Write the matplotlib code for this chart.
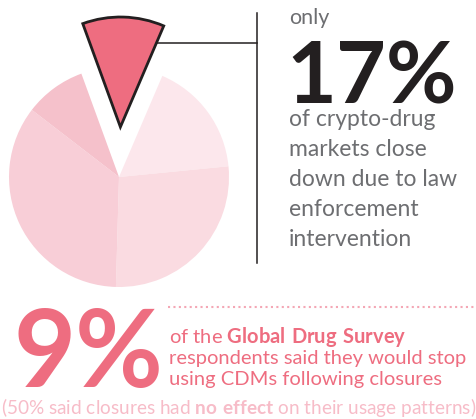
import matplotlib
matplotlib.use("Agg")
import matplotlib.pyplot as plt

plt.rcParams["font.family"] = ["Lato", "DejaVu Sans"]
plt.rcParams["mathtext.fontset"] = "custom"
plt.rcParams["mathtext.rm"] = "Lato"
plt.rcParams["mathtext.bf"] = "Lato:bold"

# pie slices, clockwise starting with the pulled-out one (% of circle)
slices = [12, 17, 27, 35, 9]
slice_colors = ["#ee6d80", "#fce7ec", "#fadbe1", "#f8ced7", "#f5c1cb"]
pull_out = [50, 0, 0, 0, 0]  # in pixels

top_word = "only"
big_number = "17%"
side_lines = ["of crypto-drug", "markets close", "down due to law",
              "enforcement", "intervention"]

survey_number = "9%"
survey_lines = [r"of the $\mathbf{Global\ Drug\ Survey}$",
                "respondents said they would stop",
                "using CDMs following closures"]
footnote = r"(50% said closures had $\mathbf{no\ effect}$ on their usage patterns)"

W, H = 476, 419
dark = "#231f20"
grey = "#6d6e71"
pink = "#ee6d80"
light_pink = "#f7bcc8"

fig = plt.figure(figsize=(W / 100, H / 100), dpi=100)
ax = fig.add_axes([0, 0, 1, 1])


def y(py):
    # picture rows run downwards, axes upwards
    return H - py


wedges, _ = ax.pie(slices, colors=slice_colors, explode=pull_out,
                   startangle=110, counterclock=False,
                   center=(119, y(177)), radius=110,
                   wedgeprops=dict(linewidth=0))
wedges[0].set_edgecolor(dark)
wedges[0].set_linewidth(2)
wedges[0].set_joinstyle("miter")
wedges[0].set_zorder(3)

# connector lines
ax.plot([157, 257], [y(43), y(43)], color=dark, lw=1.1)
ax.plot([257, 257], [y(13), y(263)], color=dark, lw=1.1)

# right hand text
ax.text(289, y(24), top_word, color=grey, fontsize=15.5, va="baseline")
ax.text(286, y(103), big_number, color=dark, fontsize=62,
        fontweight="bold", va="baseline")
for i, line in enumerate(side_lines):
    ax.text(289, y(126 + 30 * i), line, color=grey, fontsize=16.5,
            va="baseline")

# lower block
ax.plot([168, W], [y(307), y(307)], color="#f4a7b5", lw=1.5,
        linestyle=(0, (1, 1.6)))
ax.text(13, y(387), survey_number, color=pink, fontsize=77,
        fontweight="bold", va="baseline")
for i, line in enumerate(survey_lines):
    ax.text(169, y(343 + 21 * i), line, color=pink, fontsize=14.5,
            va="baseline")
ax.text(1, y(414), footnote, color=light_pink, fontsize=13.7,
        va="baseline")

ax.set_xlim(0, W)
ax.set_ylim(0, H)
ax.set_aspect("equal")
ax.axis("off")

fig.savefig("out.png", dpi=100)
